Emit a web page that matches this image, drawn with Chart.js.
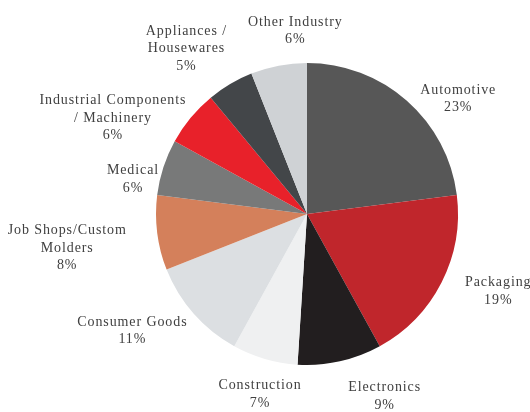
<!DOCTYPE html>
<html>
<head>
<meta charset="utf-8">
<script src="https://cdn.jsdelivr.net/npm/chart.js@4/dist/chart.umd.min.js"></script>
<style>
  html, body { margin: 0; padding: 0; background: #fff; }
  #wrap { width: 530px; height: 412px; position: relative; }
</style>
</head>
<body>
<div id="wrap"><canvas id="pieCanvas"></canvas></div>
<script>
// market segments, clockwise from 12 o'clock
const SEGMENTS = [
  ["Automotive"],
  ["Packaging"],
  ["Electronics"],
  ["Construction"],
  ["Consumer Goods"],
  ["Job Shops/Custom", "Molders"],
  ["Medical"],
  ["Industrial Components", "/ Machinery"],
  ["Appliances /", "Housewares"],
  ["Other Industry"]
];
const SHARES = [23, 19, 9, 7, 11, 8, 6, 6, 5, 6];

const COLORS = ["#575757", "#c0262c", "#221e1f", "#eff0f1", "#dcdfe2",
                "#d4805b", "#787979", "#e8212a", "#434649", "#cfd2d5"];

// hand tweaks so labels don't crowd each other (px, x/y)
const LABEL_NUDGE = [[21, 17], [20, -3], [35, 10], [9, 11], [-14, 0],
                     [-23, 11], [2, 20], [-15, 22], [-19, -6], [27, -10]];

const FONT = "14px 'Liberation Serif', 'Times New Roman', serif";
const LINE_H = 17.5;

// draws "name / NN%" outside each slice, box just touching the rim
const outsideLabels = {
  id: "outsideLabels",
  afterDatasetsDraw(chart) {
    const ctx = chart.ctx;
    const meta = chart.getDatasetMeta(0);
    ctx.save();
    ctx.font = FONT;
    ctx.letterSpacing = "0.9px";
    ctx.fillStyle = "#404040";
    ctx.textAlign = "center";
    ctx.textBaseline = "middle";
    meta.data.forEach((arc, i) => {
      const p = arc.getProps(["x", "y", "startAngle", "endAngle", "outerRadius"], true);
      const mid = (p.startAngle + p.endAngle) / 2;
      const lines = SEGMENTS[i].concat([SHARES[i] + "%"]);
      let w = 0;
      lines.forEach(t => { w = Math.max(w, ctx.measureText(t).width); });
      const h = lines.length * LINE_H;
      const r = p.outerRadius + 8;
      const ax = p.x + Math.cos(mid) * r;
      const ay = p.y + Math.sin(mid) * r;
      const cx = ax + Math.cos(mid) * w / 2 + LABEL_NUDGE[i][0];
      const cy = ay + Math.sin(mid) * h / 2 + LABEL_NUDGE[i][1];
      lines.forEach((t, k) => {
        ctx.fillText(t, cx, cy - h / 2 + LINE_H * (k + 0.5));
      });
    });
    ctx.restore();
  }
};

new Chart(document.getElementById("pieCanvas").getContext("2d"), {
  type: "pie",
  data: {
    labels: SEGMENTS.map(s => s.join(" ")),
    datasets: [{
      data: SHARES,
      backgroundColor: COLORS,
      borderWidth: 0
    }]
  },
  options: {
    responsive: true,
    maintainAspectRatio: false,
    animation: false,
    layout: { padding: { left: 156, right: 72, top: 63, bottom: 47 } },
    plugins: {
      legend: { display: false },
      tooltip: { enabled: false }
    }
  },
  plugins: [outsideLabels]
});
</script>
</body>
</html>
